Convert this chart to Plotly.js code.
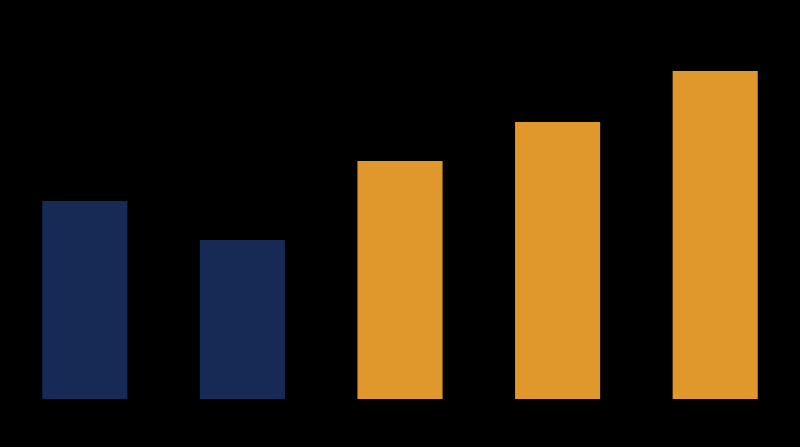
<!DOCTYPE html>
<html>
<head>
<meta charset="utf-8">
<script src="https://cdn.plot.ly/plotly-3.0.1.min.js"></script>
<style>
  html, body { margin: 0; padding: 0; background: #000; }
  #chart { width: 800px; height: 447px; }
</style>
</head>
<body>
<div id="chart"></div>
<script>
// values (no labels are legible in the picture)
const categories = ['A', 'B', 'C', 'D', 'E'];
const values = [39.6, 31.8, 47.6, 55.4, 65.6];
const barColors = ['#172a55', '#172a55', '#e0982d', '#e0982d', '#e0982d'];

const bars = {
  x: categories,
  y: values,
  type: 'bar',
  marker: { color: barColors },
  hoverinfo: 'x+y'
};

const layout = {
  width: 800,
  height: 447,
  margin: { l: 6, r: 6, t: 47, b: 48, pad: 0 },
  paper_bgcolor: '#000',
  plot_bgcolor: '#000',
  bargap: 0.46,
  showlegend: false,
  xaxis: {
    showticklabels: false,
    showgrid: false,
    zeroline: false,
    showline: false,
    ticks: ''
  },
  yaxis: {
    range: [0, 70.4],
    showticklabels: false,
    showgrid: false,
    zeroline: false,
    showline: false,
    ticks: ''
  }
};

Plotly.newPlot('chart', [bars], layout, { staticPlot: true });
</script>
</body>
</html>
